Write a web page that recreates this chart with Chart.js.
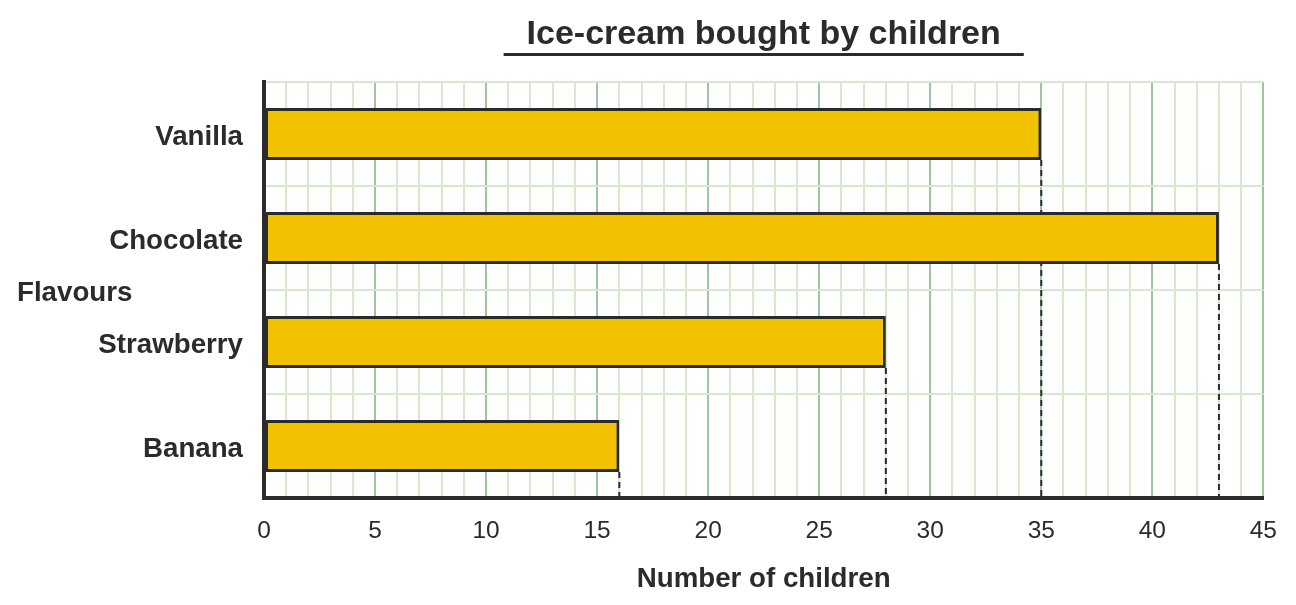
<!DOCTYPE html>
<html>
<head>
<meta charset="utf-8">
<script src="https://cdn.jsdelivr.net/npm/chart.js@4/dist/chart.umd.min.js"></script>
<style>
html,body{margin:0;padding:0;background:#fff;}
#wrap{width:1296px;height:605px;position:relative;}
</style>
</head>
<body>
<div id="wrap"><canvas id="c"></canvas></div>
<script>
const categories = ["Vanilla", "Chocolate", "Strawberry", "Banana"];
const childrenCounts = [35, 43, 28, 16];
const xMin = 0;
const xMax = 45;
const majorStep = 5;
const chartTitle = "Ice-cream bought by children";
const yAxisTitle = "Flavours";
const xAxisTitle = "Number of children";

const INK = "#2b2b2b";
const MINOR = "#d6e9cc";
const MAJOR = "#9fc59f";
const FONT = "'Liberation Sans', Arial, sans-serif";

const decorPlugin = {
  id: "decor",
  beforeDatasetsDraw(chart) {
    const ctx = chart.ctx;
    const xs = chart.scales.x, ys = chart.scales.y;
    const meta = chart.getDatasetMeta(0);
    ctx.save();
    ctx.strokeStyle = INK;
    ctx.lineWidth = 2;
    ctx.setLineDash([6, 4]);
    meta.data.forEach((bar, i) => {
      const x = xs.getPixelForValue(childrenCounts[i]);
      const y0 = bar.y + bar.height / 2;
      ctx.beginPath();
      ctx.moveTo(x, y0);
      ctx.lineTo(x, ys.bottom);
      ctx.stroke();
    });
    ctx.restore();
  },
  afterDraw(chart) {
    const ctx = chart.ctx;
    const area = chart.chartArea;
    ctx.save();
    ctx.fillStyle = INK;
    ctx.font = "bold 34px " + FONT;
    ctx.textAlign = "center";
    ctx.textBaseline = "alphabetic";
    const cx = (area.left + area.right) / 2;
    ctx.fillText(chartTitle, cx, 44);
    const w = ctx.measureText(chartTitle).width;
    ctx.strokeStyle = INK;
    ctx.lineWidth = 3;
    ctx.beginPath();
    ctx.moveTo(cx - w / 2 - 23, 54.5);
    ctx.lineTo(cx + w / 2 + 23, 54.5);
    ctx.stroke();
    ctx.font = "bold 27.7px " + FONT;
    ctx.textAlign = "left";
    ctx.textBaseline = "middle";
    ctx.fillText(yAxisTitle, 17, (area.top + area.bottom) / 2 + 3);
    ctx.restore();
  }
};

new Chart(document.getElementById("c"), {
  type: "bar",
  data: {
    labels: categories,
    datasets: [{
      data: childrenCounts,
      backgroundColor: "#f2c200",
      borderColor: INK,
      borderWidth: 3,
      borderSkipped: false,
      barPercentage: 0.5,
      categoryPercentage: 1.0
    }]
  },
  options: {
    indexAxis: "y",
    responsive: true,
    maintainAspectRatio: false,
    animation: false,
    layout: { padding: { top: 82, right: 32, left: 0, bottom: 0 } },
    plugins: {
      legend: { display: false },
      title: { display: false },
      tooltip: { enabled: false }
    },
    scales: {
      x: {
        type: "linear",
        min: xMin,
        max: xMax,
        afterFit(s) { s.height = 107; },
        ticks: {
          stepSize: 1,
          autoSkip: false,
          maxRotation: 0,
          padding: 19,
          color: INK,
          font: { family: FONT, size: 24.5 },
          callback: (v) => (v % majorStep === 0 ? String(v) : "")
        },
        grid: {
          drawTicks: false,
          lineWidth: 2,
          color: (c) => (c.tick && c.tick.value % majorStep === 0 ? MAJOR : MINOR)
        },
        border: { display: true, color: INK, width: 4 },
        title: {
          display: true,
          text: xAxisTitle,
          color: INK,
          font: { family: FONT, size: 27.7, weight: "bold" },
          padding: { top: 0, bottom: 9 }
        }
      },
      y: {
        type: "category",
        afterFit(s) { s.width = 264; },
        ticks: {
          padding: 21,
          labelOffset: 3,
          color: INK,
          font: { family: FONT, size: 27.7, weight: "bold" }
        },
        grid: {
          offset: true,
          drawTicks: false,
          lineWidth: 2,
          color: MINOR
        },
        border: { display: true, color: INK, width: 4 }
      }
    }
  },
  plugins: [decorPlugin]
});
</script>
</body>
</html>
